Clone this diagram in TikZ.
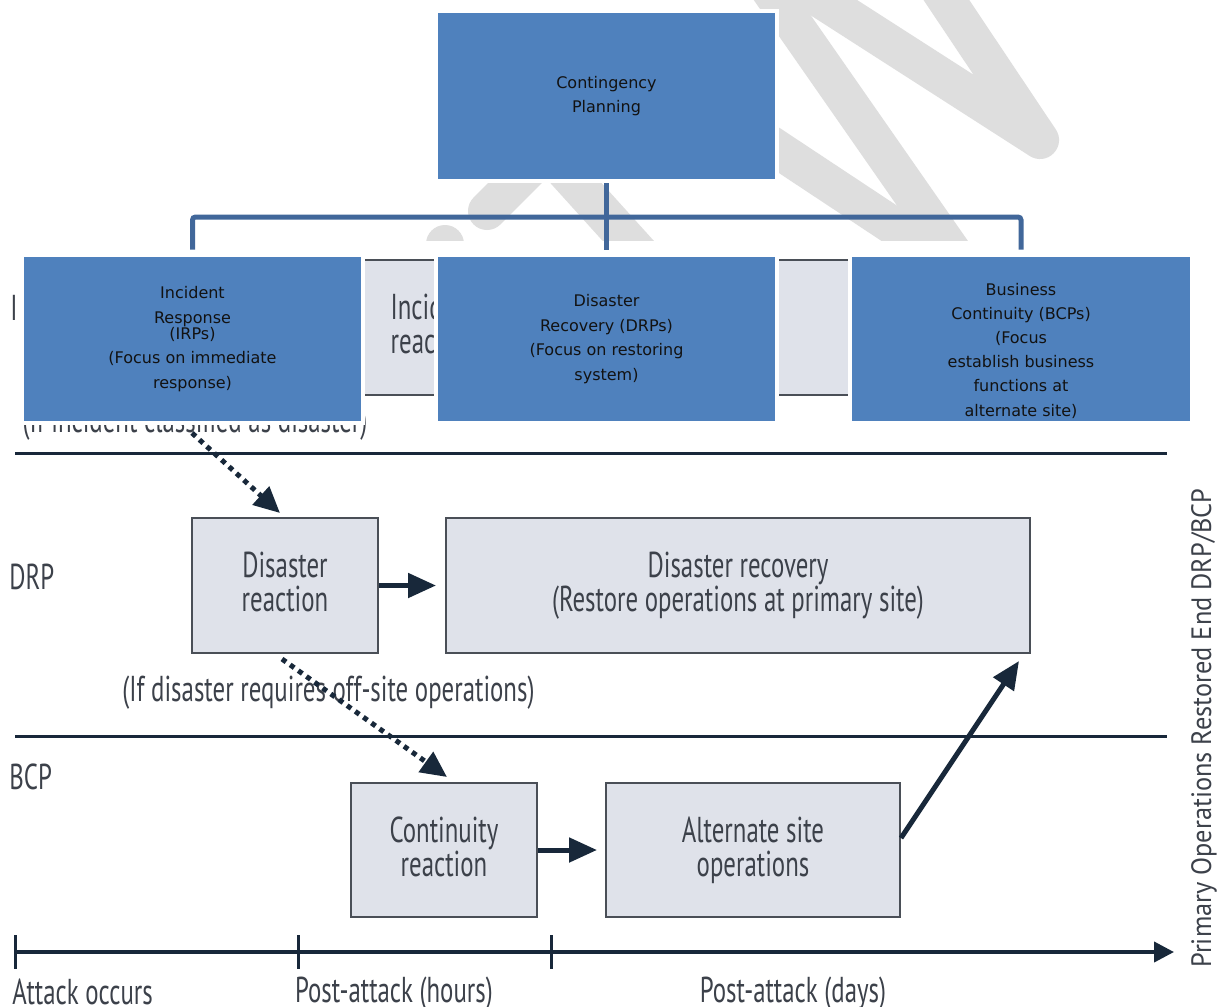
\documentclass[tikz,border=0pt]{standalone}
\usepackage{fontspec}
\setmainfont{DejaVu Sans}
\newfontfamily\condfont[FakeStretch=0.69]{PT Sans}
\newfontfamily\sidefont[FakeStretch=0.94]{PT Sans}
\usetikzlibrary{arrows.meta}
\definecolor{boxblue}{HTML}{4F81BD}
\definecolor{connblue}{HTML}{41679A}
\definecolor{navy}{HTML}{18283A}
\definecolor{gfill}{HTML}{DFE2EA}
\definecolor{gline}{HTML}{4A4F57}
\definecolor{gtext}{HTML}{3C414A}
\definecolor{wmark}{HTML}{DEDEDE}
\definecolor{btext}{HTML}{121212}
\begin{document}
\begin{tikzpicture}[x=0.5pt,y=-0.5pt,
  bluebox/.style={rectangle, fill=boxblue, inner sep=0pt, preaction={draw=white, line width=4pt},
    font=\fontsize{8pt}{12.2pt}\selectfont, text=btext, align=center},
  bluetext/.style={inner sep=0pt, font=\fontsize{8pt}{12.1pt}\selectfont, text=btext, align=center},
  graybox/.style={rectangle, draw=gline, line width=1pt, fill=gfill, inner sep=0pt,
    font=\condfont\fontsize{18pt}{17pt}\selectfont, text=gtext, align=center},
  lbl/.style={inner sep=0pt, font=\condfont\fontsize{18pt}{17pt}\selectfont, text=gtext},
  conn/.style={draw=connblue, line width=2.5pt},
  sepline/.style={draw=navy, line width=1.5pt},
  dotarrow/.style={draw=navy, line width=2.5pt, dash pattern=on 2.5pt off 2.5pt, -{Triangle[length=13pt,width=12pt]}},
  solidarrow/.style={draw=navy, line width=2.5pt, -{Triangle[length=14pt,width=12pt]}},
  wmstroke/.style={draw=wmark, line width=19pt, line cap=round, line join=round},
]
\useasboundingbox (0,0) rectangle (1224,1006);
\fill[white] (0,0) rectangle (1224,1006);
% watermark
\begin{scope}
\clip (0,0) rectangle (1224,240);
\draw[wmstroke] (756,-30) -- (965,270);
\draw[wmstroke] (783,-25) -- (1040,140) -- (933,-20);
\draw[wmstroke] (700,98) -- (990,290);
\draw[wmstroke] (487,211) -- (547,151) -- (660,276);
\draw[wmstroke] (445,244) -- (445,300);
\end{scope}
% lower diagram
\draw[sepline] (15,453) -- (1167,453);
\draw[sepline] (15,736) -- (1167,736);
\node[graybox, minimum width=80pt, minimum height=67.5pt] (ir) at (434,327.5) {Incident\\reaction\vphantom{p}};
\node[graybox, minimum width=170pt, minimum height=67.5pt] (irec) at (860,327.5) {};
\begin{scope}
\clip (0,280) rectangle (17,340);
\node[lbl, anchor=west] (irpl) at (10,308) {IRP};
\end{scope}
\node[lbl, anchor=west] (drpl) at (9,577) {DRP};
\node[lbl, anchor=west] (bcpl) at (9,777) {BCP};
\node[lbl, anchor=base] (ifinc) at (195,432) {(If incident classified as disaster)};
\node[graybox, minimum width=93pt, minimum height=67.5pt] (dr) at (285,585.5) {Disaster\\reaction\vphantom{p}};
\node[graybox, minimum width=292pt, minimum height=67.5pt] (drec) at (738,585.5) {Disaster recovery\\(Restore operations at primary site)};
\node[lbl, anchor=base] (ifdis) at (328.5,701) {(If disaster requires off-site operations)};
\node[graybox, minimum width=93pt, minimum height=67pt] (cr) at (444,850) {Continuity\\reaction\vphantom{p}};
\node[graybox, minimum width=147pt, minimum height=67pt] (alt) at (753,850) {Alternate site\\operations};
\coordinate (s1) at (192,433);
\draw[dotarrow] (s1) -- ([xshift=-2.5pt,yshift=2pt]dr.north);
\draw[dotarrow] ([xshift=-1.5pt,yshift=-2.5pt]dr.south) -- ([xshift=1.5pt,yshift=2.5pt]cr.north);
\draw[solidarrow] (dr.east) -- ([xshift=-4.5pt]drec.west);
\draw[solidarrow] (cr.east) -- ([xshift=-4pt]alt.west);
\draw[solidarrow] ([yshift=6pt]alt.east) -- ([xshift=-6pt,yshift=-3.5pt]drec.south east);
% timeline
\coordinate (t0) at (15,952);
\coordinate (t1) at (298,952);
\coordinate (t2) at (551,952);
\coordinate (tend) at (1174,952);
\draw[draw=navy, line width=2pt, -{Triangle[length=10pt,width=10pt]}] (t0) -- (tend);
\foreach \c in {t0,t1,t2} \draw[draw=navy, line width=1.5pt] ([yshift=8.5pt]\c) -- ([yshift=-8.5pt]\c);
\node[lbl, anchor=base west] (ta) at (12,1004) {Attack occurs};
\node[lbl, anchor=base] (tb) at (394,1002) {Post-attack (hours)};
\node[lbl, anchor=base] (tc) at (793,1002) {Post-attack (days)};
\node[inner sep=0pt, rotate=90, font=\sidefont\fontsize{14pt}{14pt}\selectfont, text=gtext] (side) at (1204,728) {Primary Operations Restored End DRP/BCP};
% blue hierarchy
\node[bluebox, minimum width=168.5pt, minimum height=83pt] (cp) at (606.5,96) {Contingency\\Planning};
\node[bluebox, minimum width=168.5pt, minimum height=82pt] (irp) at (192.5,339) {Incident\\Response\\[-4pt](IRPs)\\(Focus on immediate\\response)};
\node[bluebox, minimum width=168.5pt, minimum height=82pt] (drp) at (606.5,339) {Disaster\\Recovery (DRPs)\\(Focus on restoring\\system)};
\node[bluebox, minimum width=169pt, minimum height=82pt] (bcp) at (1021,339) {};
\node[bluetext] (bcpt) at (1021,350.5) {Business\\Continuity (BCPs)\\(Focus\\establish business\\functions at\\alternate site)};
\coordinate (hub) at (606.5,217);
\draw[conn] ([yshift=-2pt]cp.south) -- ([yshift=3.5pt]drp.north);
\draw[conn, rounded corners=1.5pt] ([yshift=3.5pt]irp.north) |- (hub) -| ([yshift=3.5pt]bcp.north);
\end{tikzpicture}
\end{document}
